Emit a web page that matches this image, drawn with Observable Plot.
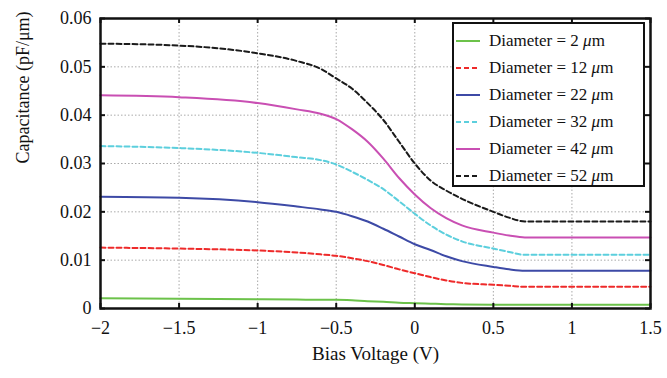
<!DOCTYPE html>
<html><head><meta charset="utf-8">
<script src="https://cdn.jsdelivr.net/npm/d3@7"></script>
<script src="https://cdn.jsdelivr.net/npm/@observablehq/plot@0.6"></script>
<style>
body{margin:0;background:#fff}
#wrap{position:relative;width:667px;height:378px;font-family:"Liberation Serif","DejaVu Serif","Noto Serif",serif;color:#111}
#legend{position:absolute;left:452px;top:22px;width:193px;height:165px;border:2px solid #111;background:#fff;box-sizing:border-box;padding-top:3px}
.row{display:flex;align-items:center;height:27px;font-size:17px;white-space:nowrap}
.row svg{margin-left:2px;margin-right:9px}
</style>
</head><body>
<div id="wrap"><div id="legend"></div></div>
<script>
const voltage = [-2, -1.5, -1, -0.75, -0.6, -0.5, -0.4, -0.3, -0.2, -0.1, 0, 0.1, 0.2, 0.3, 0.5, 0.6, 0.7, 1, 1.5];
const d2  = [0.0021,0.0020,0.0019,0.00185,0.0018,0.0018,0.0017,0.0015,0.0014,0.0012,0.0011,0.0010,0.0009,0.00085,0.0008,0.0008,0.0008,0.0008,0.0008];
const d12 = [0.0126,0.0124,0.0120,0.0116,0.0112,0.0109,0.0104,0.0098,0.0090,0.0081,0.0073,0.0065,0.0058,0.0053,0.0049,0.0047,0.0045,0.0045,0.0045];
const d22 = [0.0231,0.0229,0.0220,0.0211,0.0205,0.0200,0.0191,0.0180,0.0165,0.0149,0.0133,0.0121,0.0108,0.0098,0.0086,0.0081,0.0078,0.0078,0.0078];
const d32 = [0.0336,0.0332,0.0322,0.0313,0.0307,0.0298,0.0283,0.0266,0.0247,0.0222,0.0196,0.0172,0.0153,0.0139,0.0124,0.0117,0.0111,0.0111,0.0111];
const d42 = [0.0441,0.0437,0.0425,0.0412,0.0403,0.0392,0.0371,0.0345,0.0310,0.0270,0.0236,0.0208,0.0187,0.0172,0.0157,0.0151,0.0147,0.0147,0.0147];
const d52 = [0.0548,0.0544,0.0528,0.0512,0.0496,0.0476,0.0455,0.0425,0.0390,0.0345,0.0300,0.0265,0.0244,0.0227,0.0200,0.0188,0.0180,0.0180,0.0180];
const diameters = ["2","12","22","32","42","52"];
const seriesValues = [d2, d12, d22, d32, d42, d52];
const colors = ["#6cc24a","#ee2a2a","#3d4aa6","#5ccfdd","#c94fb3","#1a1a1a"];
const dashes = [null,"5,3",null,"5,3",null,"5,3"];
const xTicks = [-2,-1.5,-1,-0.5,0,0.5,1,1.5];
const xTickLabels = ["−2","−1.5","−1","−0.5","0","0.5","1","1.5"];
const yTicks = [0,0.01,0.02,0.03,0.04,0.05,0.06];
const yTickLabels = ["0","0.01","0.02","0.03","0.04","0.05","0.06"];
const FONT = "'Liberation Serif','DejaVu Serif','Noto Serif',serif";

const lineMarks = seriesValues.map((vals, s) => {
  const data = voltage.map((v, i) => ({v, c: vals[i]}));
  return Plot.line(data, {x: "v", y: "c", stroke: colors[s], strokeWidth: 2, strokeDasharray: dashes[s], curve: "monotone-x"});
});

const W = 667, H = 378, mL = 100, mR = 17, mT = 18, mB = 70;
const pw = W - mL - mR, ph = H - mT - mB;

const chart = Plot.plot({
  width: W, height: H,
  marginLeft: mL, marginRight: mR, marginTop: mT, marginBottom: mB,
  style: {fontFamily: FONT, fontSize: "18px", color: "#111", background: "#fff", overflow: "visible"},
  x: {domain: [-2, 1.5]},
  y: {domain: [0, 0.06]},
  marks: [
    Plot.gridX(xTicks, {stroke: "#777", strokeOpacity: 0.8, strokeDasharray: "1.5,2", strokeWidth: 0.8}),
    Plot.gridY(yTicks, {stroke: "#777", strokeOpacity: 0.8, strokeDasharray: "1.5,2", strokeWidth: 0.8}),
    ...lineMarks,
    Plot.axisX(xTicks, {tickSize: 0, tickPadding: 13, tickFormat: (d) => xTickLabels[xTicks.indexOf(d)], label: null, fontSize: 18}),
    Plot.axisY(yTicks, {tickSize: 0, tickPadding: 9, tickFormat: (d) => yTickLabels[yTicks.indexOf(d)], label: null, fontSize: 18}),
    Plot.tickX(xTicks, {x: d => d, insetTop: ph - 5, stroke: "#111", strokeWidth: 2}),
    Plot.tickX(xTicks, {x: d => d, insetBottom: ph - 5, stroke: "#111", strokeWidth: 2}),
    Plot.tickY(yTicks, {y: d => d, insetRight: pw - 5, stroke: "#111", strokeWidth: 2}),
    Plot.tickY(yTicks, {y: d => d, insetLeft: pw - 5, stroke: "#111", strokeWidth: 2}),
    Plot.frame({stroke: "#111", strokeWidth: 2.5}),
    Plot.text(["Bias Voltage (V)"], {frameAnchor: "bottom", dy: 51, fontSize: 19, fill: "#111"}),
    Plot.text(["Capacitance (pF/μm)"], {frameAnchor: "left", dx: -77, rotate: -90, fontSize: 18, fill: "#111"})
  ]
});
document.getElementById("wrap").prepend(chart);

const legend = document.getElementById("legend");
diameters.forEach((dm, s) => {
  const row = document.createElement("div");
  row.className = "row";
  row.innerHTML = `<svg width="24" height="6"><line x1="0" y1="3" x2="24" y2="3" stroke="${colors[s]}" stroke-width="2" ${dashes[s] ? `stroke-dasharray="${dashes[s].replace(',', ' ')}"` : ""}/></svg><span>Diameter = ${dm} <i>μ</i>m</span>`;
  legend.appendChild(row);
});
</script>
</body></html>
